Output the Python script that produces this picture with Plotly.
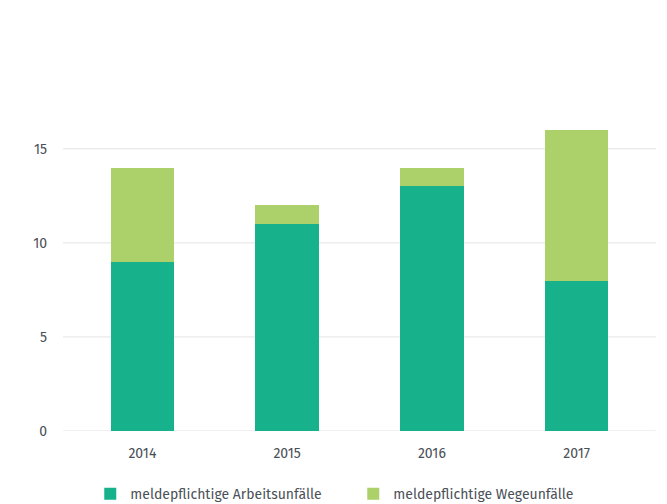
import plotly.graph_objects as go

years = ["2014", "2015", "2016", "2017"]
arbeitsunfaelle = [9, 11, 13, 8]
wegeunfaelle = [5, 1, 1, 8]
y_ticks = [0, 5, 10, 15]

text_color = "#4a5057"
font_family = "Fira Sans, Open Sans, Lato, sans-serif"

fig = go.Figure()
fig.add_trace(go.Bar(
    x=years, y=arbeitsunfaelle, name="meldepflichtige Arbeitsunfälle",
    marker=dict(color="#17b28c", line=dict(width=0)),
))
fig.add_trace(go.Bar(
    x=years, y=wegeunfaelle, name="meldepflichtige Wegeunfälle",
    marker=dict(color="#acd16a", line=dict(width=0)),
))

# horizontal grid lines slightly wider than the category band
for v in y_ticks:
    fig.add_shape(type="line", xref="paper", yref="y", x0=-0.012, x1=1.012,
                  y0=v, y1=v, line=dict(color="#e3e3e3", width=1), layer="below")

fig.update_layout(
    barmode="stack",
    bargap=0.56,
    width=667, height=504,
    margin=dict(l=70, r=18, t=130, b=73, autoexpand=False),
    paper_bgcolor="white", plot_bgcolor="white",
    font=dict(family=font_family, size=14, color=text_color),
    showlegend=True,
    legend=dict(orientation="h", x=0.035, xanchor="left", y=-0.21, yanchor="middle",
                font=dict(size=14, color=text_color), itemwidth=30,
                traceorder="normal", entrywidthmode="pixels", entrywidth=218),
    xaxis=dict(showgrid=False, showline=False, ticks="", ticklabelstandoff=12,
               tickfont=dict(size=14)),
    yaxis=dict(range=[0, 16], tickvals=y_ticks, showgrid=False, zeroline=False,
               showline=False, ticks="", ticklabelstandoff=22, tickfont=dict(size=14)),
)

fig.write_html("out.html")
